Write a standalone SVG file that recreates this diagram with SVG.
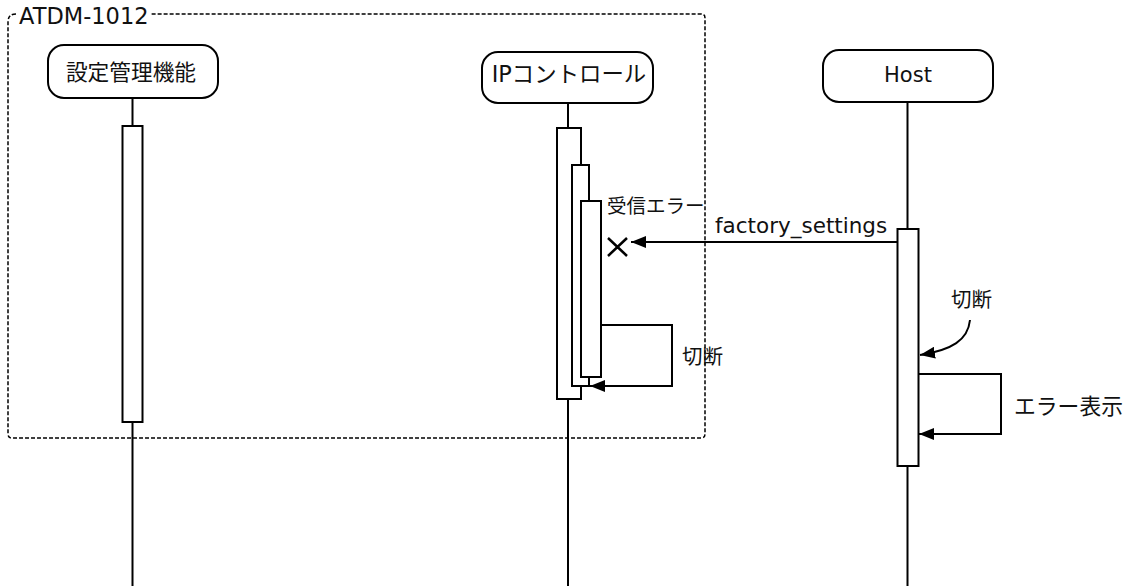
<svg xmlns="http://www.w3.org/2000/svg" width="1131" height="586" viewBox="0 0 1131 586">
<style>
text{font-family:"DejaVu Sans","Noto Sans CJK JP",sans-serif;font-size:20px;fill:#111}
.c{text-anchor:middle}
.box{fill:#fff;stroke:#000;stroke-width:2}
.act{fill:#fff;stroke:#000;stroke-width:2}
.ln{fill:none;stroke:#000;stroke-width:2}
.frame{fill:none;stroke:#000;stroke-width:1.5;stroke-dasharray:4 2}
</style>
<defs>
<marker id="ah" markerWidth="15" markerHeight="12" refX="15" refY="6" orient="auto" markerUnits="userSpaceOnUse">
<path d="M0,0 L15,6 L0,12 Z" fill="#000"/>
</marker>
</defs>
<g id="frame">
<path class="frame" d="M16,14 Q8,14 8,22 L8,434 Q8,438 12,438 L701,438 Q705,438 705,434 L705,18 Q705,14 701,14 L151,14"/>
<text x="19" y="24" style="font-size:22.5px">ATDM-1012</text>
</g>
<g id="lifelines">
<line class="ln" x1="132.5" y1="98" x2="132.5" y2="586"/>
<line class="ln" x1="568" y1="103" x2="568" y2="586"/>
<line class="ln" x1="907.5" y1="102" x2="907.5" y2="586"/>
</g>
<g id="settings">
<rect class="box" x="48" y="45" width="170" height="53" rx="16"/>
<text class="c" x="131" y="80" style="font-size:21.7px">設定管理機能</text>
<rect class="act" x="122.5" y="126" width="20" height="296"/>
</g>
<g id="ipcontrol">
<rect class="box" x="482" y="52" width="171" height="51" rx="16"/>
<text class="c" x="569" y="82" style="font-size:22.4px">IPコントロール</text>
<rect class="act" x="557" y="128" width="24" height="271"/>
<rect class="act" x="572" y="165" width="17" height="221"/>
<rect class="act" x="581" y="201" width="20" height="176"/>
</g>
<g id="host">
<rect class="box" x="823" y="50" width="170" height="52" rx="16"/>
<text class="c" x="908" y="82" style="font-size:21px">Host</text>
<rect class="act" x="897.5" y="229" width="21" height="237"/>
</g>
<g id="connectors">
<line class="ln" x1="897" y1="242" x2="631" y2="242" marker-end="url(#ah)"/>
<path class="ln" d="M608,238 L627,256 M627,238 L608,256" style="stroke-width:2.5"/>
<path class="ln" d="M602,325 L672,325 L672,386 L590,386" marker-end="url(#ah)"/>
<path class="ln" d="M970,320 C968,340 952,350 920,355" marker-end="url(#ah)"/>
<path class="ln" d="M919,374 L1001,374 L1001,434 L919,434" marker-end="url(#ah)"/>
</g>
<g id="labels">
<text x="607" y="213" style="font-size:19.5px">受信エラー</text>
<text x="715" y="233" style="font-size:21.5px">factory_settings</text>
<text x="682" y="364" style="font-size:20.5px">切断</text>
<text x="951" y="307" style="font-size:20.5px">切断</text>
<text x="1014" y="414" style="font-size:21.8px">エラー表示</text>
</g>
</svg>
